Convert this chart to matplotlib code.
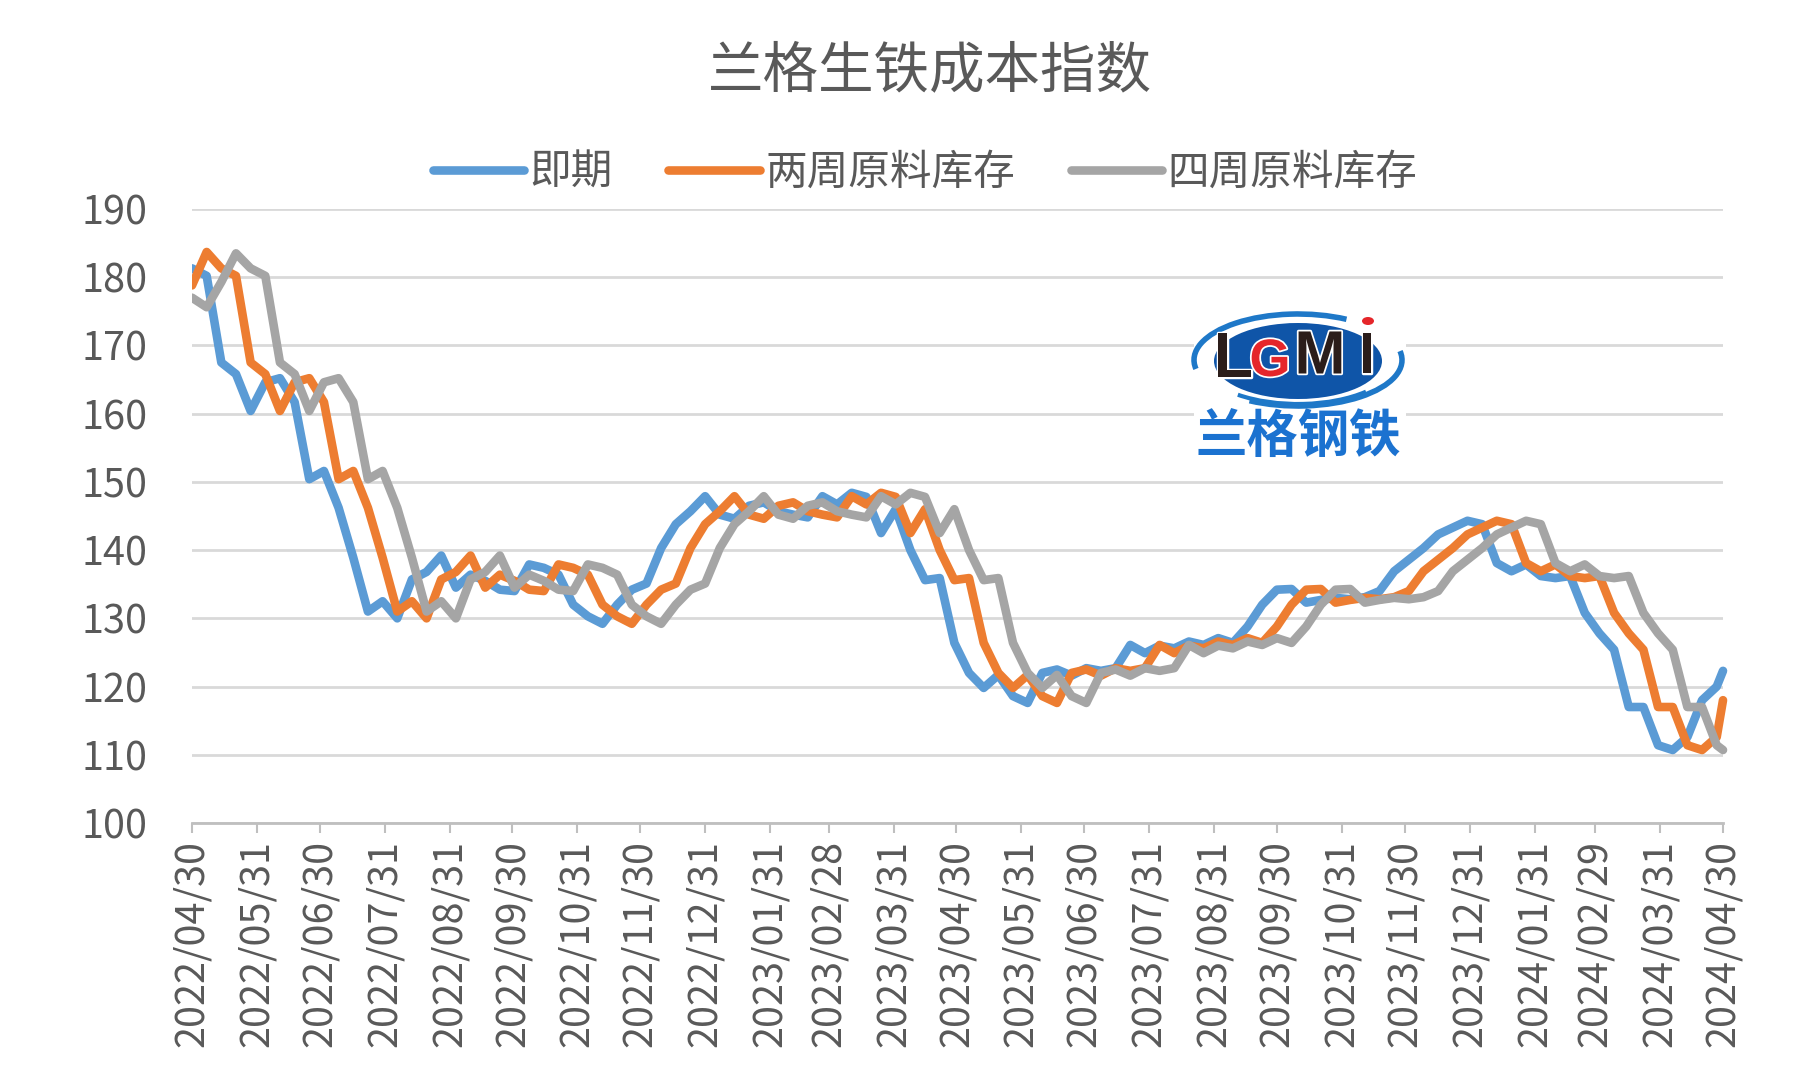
import numpy as np, pandas as pd
import matplotlib as mpl; mpl.use("Agg")
import matplotlib.pyplot as plt
import matplotlib.patheffects as pe
from matplotlib.patches import Ellipse, Arc, Rectangle

plt.rcParams["font.family"] = ["Noto Sans CJK SC", "DejaVu Sans"]

title = "兰格生铁成本指数"
names = ["即期", "两周原料库存", "四周原料库存"]
colors = ["#5B9BD5", "#ED7D31", "#A5A5A5"]
dates = list(pd.date_range("2022-04-30", periods=105, freq="7D")) + [pd.Timestamp("2024-04-30")]
tick_dates = pd.date_range("2022-04-30", "2024-04-30", freq="ME")
yticks = [100, 110, 120, 130, 140, 150, 160, 170, 180, 190]

spot = [181.3,180.2,167.5,165.8,160.4,164.6,165.2,161.7,150.4,151.6,146.2,138.9,131,132.5,130,135.7,136.8,139.2,134.5,136.4,
        135.5,134.2,134,137.9,137.4,136.4,132,130.3,129.2,132,134.2,135.1,140.3,143.8,145.7,147.9,145.2,144.6,146.5,147,
        145.7,145.2,144.8,147.9,146.7,148.4,147.8,142.5,146,140,135.6,135.9,126.4,122,119.8,121.7,118.6,117.6,122,122.5,
        121.6,122.7,122.3,122.7,126.1,124.9,126,125.6,126.6,126.1,127.1,126.4,128.8,132,134.2,134.3,132.3,132.7,133,132.8,
        133.1,134,136.9,138.6,140.3,142.3,143.3,144.3,143.8,138.1,136.9,137.9,136.2,135.9,136.2,130.8,127.8,125.4,117,117,
        111.4,110.7,112.6,118,120,122.3]
two_week = [178.8,183.7,181.3,180.2,167.5,165.8,160.4,164.6,165.2,161.7,150.4,151.6,146.2,138.9,131,132.5,130,135.7,136.8,139.2,
            134.5,136.4,135.5,134.2,134,137.9,137.4,136.4,132,130.3,129.2,132,134.2,135.1,140.3,143.8,145.7,147.9,145.2,144.6,
            146.5,147,145.7,145.2,144.8,147.9,146.7,148.4,147.8,142.5,146,140,135.6,135.9,126.4,122,119.8,121.7,118.6,117.6,
            122,122.5,121.6,122.7,122.3,122.7,126.1,124.9,126,125.6,126.6,126.1,127.1,126.4,128.8,132,134.2,134.3,132.3,132.7,
            133,132.8,133.1,134,136.9,138.6,140.3,142.3,143.3,144.3,143.8,138.1,136.9,137.9,136.2,135.9,136.2,130.8,127.8,125.4,
            117,117,111.4,110.7,112.6,118]
four_week = [177,175.6,179.3,183.5,181.3,180.2,167.5,165.8,160.4,164.6,165.2,161.7,150.4,151.6,146.2,138.9,131,132.5,130,135.7,
             136.8,139.2,134.5,136.4,135.5,134.2,134,137.9,137.4,136.4,132,130.3,129.2,132,134.2,135.1,140.3,143.8,145.7,147.9,
             145.2,144.6,146.5,147,145.7,145.2,144.8,147.9,146.7,148.4,147.8,142.5,146,140,135.6,135.9,126.4,122,119.8,121.7,
             118.6,117.6,122,122.5,121.6,122.7,122.3,122.7,126.1,124.9,126,125.6,126.6,126.1,127.1,126.4,128.8,132,134.2,134.3,
             132.3,132.7,133,132.8,133.1,134,136.9,138.6,140.3,142.3,143.3,144.3,143.8,138.1,136.9,137.9,136.2,135.9,136.2,130.8,
             127.8,125.4,117,117,111.4,110.7]

W, H = 1810, 1086
TXT = "#595959"
fig = plt.figure(figsize=(W/100, H/100), dpi=100, facecolor="white")
ax = fig.add_axes([192/W, 1-823/H, (1723-192)/W, (823-209)/H])
ax.set_xlim(pd.Timestamp("2022-04-30"), pd.Timestamp("2024-04-30")); ax.set_ylim(100, 190)
ax.set_yticks(yticks); ax.tick_params(axis="y", length=0, pad=32, labelsize=28.5, labelcolor=TXT)
ax.grid(axis="y", color="#D9D9D9", lw=2.0); ax.set_axisbelow(True)
for s in ["top", "left", "right"]: ax.spines[s].set_visible(False)
ax.spines["bottom"].set_color("#BFBFBF"); ax.spines["bottom"].set_linewidth(2.0)
ax.set_xticks(tick_dates); ax.set_xticklabels([d.strftime("%Y/%m/%d") for d in tick_dates], rotation=90)
ax.tick_params(axis="x", length=7, width=1.5, color="#BFBFBF", pad=5, labelsize=28.5, labelcolor=TXT)

clip = Rectangle((0, -0.1), 1.006, 1.2, transform=ax.transAxes)
for vals, n, c in zip([spot, two_week, four_week], names, colors):
    ln, = ax.plot(dates, vals, color=c, lw=6.2, label=n, solid_joinstyle="round", solid_capstyle="round")
    ln.set_clip_path(clip)

fig.text(930/W, 1-71/H, title, ha="center", va="center", fontsize=40, color=TXT)
fig.legend(loc="center", bbox_to_anchor=(925/W, 1-173/H), ncol=3, frameon=False, fontsize=30, labelcolor=TXT,
           handlelength=2.2, handletextpad=0.13, columnspacing=1.33)

# logo, drawn in pixel coordinates
lg = fig.add_axes([0, 0, 1, 1], facecolor="none"); lg.set_xlim(0, W); lg.set_ylim(H, 0); lg.axis("off")
lg.add_patch(Rectangle((1194, 312), 212, 158, fc="white", ec="none"))
lg.add_patch(Ellipse((1298, 361), 168, 76, fc="#0F55A8", ec="none"))
lg.add_patch(Arc((1298, 360), 208, 92, theta1=175, theta2=320, color="#1E78C8", lw=4))
lg.add_patch(Arc((1298, 360), 208, 92, theta1=-5, theta2=140, color="#1E78C8", lw=4))
lg.add_patch(Arc((1298, 360), 196, 88, theta1=25, theta2=150, color="#1E78C8", lw=3))
white = [pe.withStroke(linewidth=2.5, foreground="white")]
logo_letters = [(1233, "L", "#2B1D1A", 46, 360), (1270, "G", "#E5262A", 38, 362), (1320, "M", "#2B1D1A", 44, 358), (1367, "I", "#2B1D1A", 42, 358)]
for x, s, c, fs, y in logo_letters:
    lg.text(x, y, s, ha="center", va="center", fontsize=fs, color=c, fontweight="bold", family=["Liberation Sans"], path_effects=white)
lg.add_patch(Ellipse((1368, 321), 12, 8, fc="#E5262A", ec="none"))
lg.text(1298, 436, "兰格钢铁", ha="center", va="center", fontsize=37, color="#1B72D0", fontweight="bold")

fig.savefig("out.png", dpi=100)
